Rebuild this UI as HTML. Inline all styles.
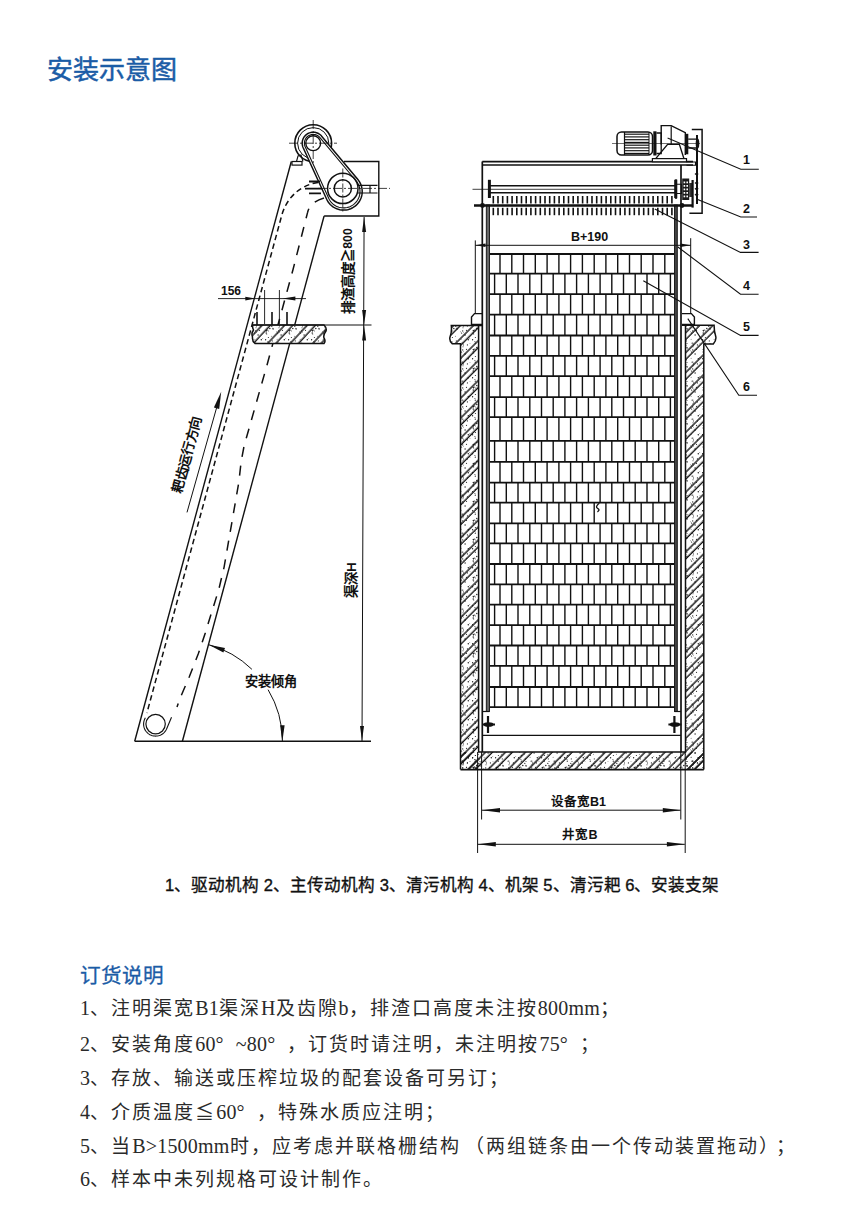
<!DOCTYPE html>
<html lang="zh-CN"><head><meta charset="utf-8">
<style>
html,body{margin:0;padding:0;background:#fff;}
body{width:850px;height:1218px;position:relative;overflow:hidden;font-family:"Liberation Sans",sans-serif;}
.t{position:absolute;white-space:nowrap;}
#title{left:46.5px;top:48.5px;font-size:26px;color:#1b5ca6;-webkit-text-stroke:0.5px #1b5ca6;}
#cap{left:165px;top:872px;font-size:16.6px;color:#111;-webkit-text-stroke:0.35px #111;}
#ord{left:80px;top:959px;font-size:20.6px;color:#1b5ca6;-webkit-text-stroke:0.3px #1b5ca6;}
.ln{left:80px;font-family:"Liberation Serif",serif;font-size:19px;color:#2a2a2a;letter-spacing:2px;}
.ln i{font-style:normal;letter-spacing:0.2px;font-size:20px;}
.ln i.dg{margin-right:12px;}
</style></head><body>
<div class="t" id="title">安装示意图</div>
<svg width="850" height="860" viewBox="0 0 850 860" style="position:absolute;left:0;top:0">
<defs>
<pattern id="hatchL" patternUnits="userSpaceOnUse" width="16.5" height="16.5" patternTransform="rotate(43)"><line x1="1" y1="0" x2="1" y2="16.5" stroke="#111" stroke-width="1.4"/><line x1="7" y1="0" x2="7" y2="16.5" stroke="#111" stroke-width="1.4"/></pattern>
<pattern id="hatchR" patternUnits="userSpaceOnUse" width="14.1" height="14.1" patternTransform="rotate(45)"><line x1="1" y1="0" x2="1" y2="14.1" stroke="#111" stroke-width="1.4"/><line x1="5.9" y1="0" x2="5.9" y2="14.1" stroke="#111" stroke-width="1.4"/></pattern>
<pattern id="stip" patternUnits="userSpaceOnUse" width="23" height="19"><circle cx="7.4" cy="2.9" r="0.61" fill="#222"/><circle cx="1.7" cy="10.2" r="0.50" fill="#222"/><circle cx="1.3" cy="9.6" r="0.36" fill="#222"/><circle cx="10.0" cy="1.3" r="0.39" fill="#222"/><circle cx="9.8" cy="15.7" r="0.40" fill="#222"/><circle cx="5.1" cy="11.9" r="0.73" fill="#222"/><circle cx="13.3" cy="7.5" r="0.74" fill="#222"/><circle cx="1.1" cy="16.3" r="0.47" fill="#222"/><circle cx="3.3" cy="2.2" r="0.47" fill="#222"/><circle cx="18.8" cy="3.4" r="0.58" fill="#222"/><circle cx="14.7" cy="7.1" r="0.57" fill="#222"/><circle cx="1.4" cy="1.1" r="0.43" fill="#222"/><circle cx="15.6" cy="8.1" r="0.48" fill="#222"/><circle cx="13.5" cy="8.6" r="0.47" fill="#222"/><circle cx="18.3" cy="13.3" r="0.45" fill="#222"/><circle cx="13.2" cy="10.0" r="0.70" fill="#222"/><circle cx="16.8" cy="5.5" r="0.74" fill="#222"/><circle cx="2.7" cy="7.9" r="0.65" fill="#222"/><circle cx="3.5" cy="9.3" r="0.37" fill="#222"/><circle cx="15.4" cy="14.5" r="0.58" fill="#222"/><circle cx="20.1" cy="6.0" r="0.63" fill="#222"/><circle cx="13.7" cy="11.0" r="0.53" fill="#222"/><circle cx="19.3" cy="17.9" r="0.54" fill="#222"/><circle cx="15.3" cy="1.2" r="0.63" fill="#222"/><circle cx="14.9" cy="18.9" r="0.68" fill="#222"/><circle cx="6.5" cy="7.3" r="0.62" fill="#222"/><circle cx="0.5" cy="8.8" r="0.42" fill="#222"/><circle cx="2.7" cy="1.1" r="0.66" fill="#222"/><circle cx="3.0" cy="4.7" r="0.51" fill="#222"/><circle cx="20.0" cy="1.5" r="0.53" fill="#222"/><circle cx="12.6" cy="16.8" r="0.68" fill="#222"/><circle cx="19.9" cy="5.3" r="0.52" fill="#222"/><circle cx="8.3" cy="16.8" r="0.73" fill="#222"/><circle cx="3.5" cy="3.3" r="0.44" fill="#222"/></pattern></defs>
<g fill="none" stroke="#111" stroke-linecap="butt" font-family="Liberation Sans, sans-serif">
<line x1="291.3" y1="161.5" x2="134.7" y2="741.2" stroke-width="1.4" />
<line x1="324.1" y1="216.0" x2="182.4" y2="741.2" stroke-width="1.4" />
<line x1="134.7" y1="741.2" x2="371.0" y2="741.2" stroke-width="1.4" />
<path d="M344,161.5 H378.8 V216 H324.1" stroke-width="1.4" />
<rect x="292" y="161.5" width="10" height="3.6" stroke-width="1.2"/>
<path d="M296.5,161.5 L298,156 L301,155 L303,161.5" stroke-width="1.1" />
<path d="M318,182.5 C300,185 286,198 281.3,217 L146.9,713" stroke-width="1.5" stroke-dasharray="5.5 3.5"/>
<path d="M324,198 C314,201 309,206 307.6,212.4 L292.9,270 L267.1,364.7 L244.1,445.9 L241.2,461.2 L238.8,482.4 L224.1,567.1 L218.8,589.4 L211.8,611.8 L205.3,632.9 L198.2,654.1 L189.4,676.5 L180.6,697 L177,707" stroke-width="1.5" stroke-dasharray="10 9"/>
<circle cx="155.6" cy="724.1" r="9.7" stroke-width="1.2"/>
<path d="M145.42,717.74 L144.94,718.59 L144.53,719.48 L144.19,720.40 L143.92,721.34 L143.74,722.30 L143.63,723.27 L143.60,724.25 L143.65,725.23 L143.79,726.20 L144.00,727.16 L144.28,728.09 L144.65,729.00 L145.08,729.88 L145.59,730.71 L146.16,731.51 L146.80,732.25 L147.49,732.94 L148.24,733.58 L149.03,734.14 L149.87,734.65 L150.75,735.08 L151.66,735.44 L152.60,735.72 L153.56,735.92 L154.53,736.05 L155.51,736.10 L156.48,736.07 L157.46,735.96 L158.42,735.76 L159.36,735.50 L160.27,735.15 L161.16,734.73 L162.01,734.25 L162.81,733.69 L163.57,733.07 L164.28,732.39 L164.92,731.66 L165.51,730.87 L166.03,730.04 L166.48,729.17 L171.52,717.17" stroke-width="1.1" />
<circle cx="313.2" cy="143.2" r="18.4" stroke-width="1.6"/>
<circle cx="313.2" cy="143.2" r="15.6" stroke-width="1.0"/>
<path d="M326.68,199.22 L327.40,200.64 L328.23,201.98 L329.18,203.25 L330.23,204.44 L331.38,205.53 L332.62,206.52 L333.94,207.39 L335.33,208.16 L336.78,208.80 L338.27,209.32 L339.81,209.71 L341.37,209.97 L342.95,210.09 L344.54,210.08 L346.12,209.93 L347.68,209.65 L349.21,209.24 L350.69,208.69 L352.13,208.03 L353.51,207.24 L354.81,206.34 L356.03,205.33 L357.17,204.22 L358.20,203.02 L359.13,201.74 L359.94,200.38 L360.64,198.96 L361.21,197.48 L361.66,195.96 L361.97,194.41 L362.15,192.83 L362.20,191.25 L362.11,189.67 L361.89,188.10 L361.53,186.55 L361.04,185.04 L360.43,183.58 L359.70,182.18 L358.84,180.84 L357.88,179.58 L321.65,136.15 L321.12,135.56 L320.55,135.02 L319.94,134.51 L319.30,134.05 L318.63,133.63 L317.93,133.27 L317.20,132.95 L316.46,132.69 L315.69,132.49 L314.92,132.34 L314.13,132.24 L313.34,132.20 L312.55,132.22 L311.77,132.29 L310.99,132.42 L310.22,132.61 L309.47,132.85 L308.73,133.15 L308.02,133.49 L307.34,133.89 L306.69,134.34 L306.07,134.83 L305.48,135.36 L304.94,135.93 L304.44,136.55 L303.99,137.19 L303.58,137.87 L303.22,138.57 L302.91,139.30 L302.66,140.05 L302.46,140.81 L302.32,141.59 L302.23,142.38 L302.20,143.17 L302.23,143.96 L302.31,144.74 L302.45,145.52 L302.64,146.29 L302.89,147.04 L303.19,147.77Z" stroke-width="1.5" fill="#fff"/>
<path d="M328.68,198.31 L329.31,199.55 L330.05,200.74 L330.89,201.86 L331.82,202.91 L332.83,203.87 L333.92,204.74 L335.08,205.51 L336.31,206.19 L337.58,206.76 L338.90,207.21 L340.26,207.56 L341.64,207.78 L343.03,207.89 L344.43,207.88 L345.82,207.75 L347.19,207.50 L348.54,207.14 L349.86,206.66 L351.12,206.07 L352.34,205.38 L353.49,204.59 L354.56,203.70 L355.56,202.72 L356.47,201.66 L357.29,200.53 L358.01,199.33 L358.62,198.07 L359.13,196.77 L359.52,195.43 L359.80,194.06 L359.96,192.67 L360.00,191.28 L359.92,189.88 L359.72,188.50 L359.41,187.14 L358.98,185.81 L358.44,184.52 L357.79,183.28 L357.04,182.10 L356.19,180.99 L319.96,137.56 L319.53,137.09 L319.08,136.65 L318.59,136.25 L318.08,135.88 L317.54,135.55 L316.98,135.25 L316.40,135.00 L315.81,134.79 L315.20,134.63 L314.57,134.51 L313.95,134.43 L313.32,134.40 L312.68,134.42 L312.05,134.47 L311.43,134.58 L310.82,134.73 L310.21,134.92 L309.63,135.16 L309.06,135.44 L308.51,135.75 L307.99,136.11 L307.49,136.50 L307.03,136.93 L306.59,137.39 L306.19,137.88 L305.83,138.39 L305.50,138.93 L305.22,139.50 L304.97,140.08 L304.77,140.68 L304.61,141.29 L304.49,141.91 L304.42,142.54 L304.40,143.17 L304.42,143.81 L304.49,144.43 L304.60,145.06 L304.75,145.67 L304.95,146.27 L305.19,146.85Z" stroke-width="1.1" />
<circle cx="313.2" cy="143.2" r="7.4" stroke-width="1.4"/>
<circle cx="342.8" cy="188.4" r="15.2" stroke-width="1.5"/>
<circle cx="342.8" cy="188.4" r="8.6" stroke-width="1.5"/>
<path d="M358,185.3 H377.5 M358,193 H377.5 M370,185.3 V193" stroke-width="1.2" />
<path d="M309,181.5 H320 M305,188.6 H322 M309,193.4 H321" stroke-width="1.8" />
<line x1="289.0" y1="143.2" x2="337.0" y2="143.2" stroke-width="0.8" stroke-dasharray="9 2 2 2"/>
<line x1="313.2" y1="120.0" x2="313.2" y2="165.0" stroke-width="0.8" stroke-dasharray="9 2 2 2"/>
<line x1="318.0" y1="188.4" x2="390.0" y2="188.4" stroke-width="0.8" stroke-dasharray="9 2 2 2"/>
<line x1="342.8" y1="168.5" x2="342.8" y2="212.0" stroke-width="0.8" stroke-dasharray="9 2 2 2"/>
<path d="M253,325 H324 Q327,328 326,331 Q323,335 324,338 Q326,341 324,343.5 H255 Q252,341 252.5,337 Q251,333 253.5,330 Q252,327 253,325Z" fill="#fff" stroke="none"/>
<path d="M253,325 H324 Q327,328 326,331 Q323,335 324,338 Q326,341 324,343.5 H255 Q252,341 252.5,337 Q251,333 253.5,330 Q252,327 253,325Z" fill="url(#stip)" stroke="none"/>
<path d="M253,325 H324 Q327,328 326,331 Q323,335 324,338 Q326,341 324,343.5 H255 Q252,341 252.5,337 Q251,333 253.5,330 Q252,327 253,325Z" fill="url(#hatchL)" stroke="none"/>
<path d="M253,325 H324 Q327,328 326,331 Q323,335 324,338 Q326,341 324,343.5 H255 Q252,341 252.5,337 Q251,333 253.5,330 Q252,327 253,325Z" stroke-width="1.5" />
<line x1="253.0" y1="325.0" x2="371.5" y2="325.0" stroke-width="1.1" />
<line x1="257.0" y1="312.0" x2="257.0" y2="325.0" stroke-width="1.6" />
<line x1="272.0" y1="312.0" x2="272.0" y2="325.0" stroke-width="1.6" />
<line x1="287.0" y1="312.0" x2="287.0" y2="325.0" stroke-width="1.6" />
<line x1="264.6" y1="290.0" x2="264.6" y2="324.0" stroke-width="0.9" />
<line x1="279.4" y1="290.0" x2="279.4" y2="324.0" stroke-width="0.9" />
<line x1="218.0" y1="298.6" x2="306.0" y2="298.6" stroke-width="0.9" />
<path d="M255.3,298.6 L245.3,300.5 L245.3,296.7Z" fill="#111" stroke="none"/>
<path d="M282.4,298.6 L295.4,296.6 L295.4,300.6Z" fill="#111" stroke="none"/>
<text x="231.0" y="294.5" font-size="12" text-anchor="middle" font-weight="bold" fill="#111" stroke="none" >156</text>
<line x1="364.1" y1="217.0" x2="362.0" y2="741.0" stroke-width="1.0" />
<path d="M364.1,217.0 L366.1,232.0 L362.1,232.0Z" fill="#111" stroke="none"/>
<path d="M364.1,325.0 L362.1,310.0 L366.1,310.0Z" fill="#111" stroke="none"/>
<path d="M364.1,325.5 L366.1,340.5 L362.1,340.5Z" fill="#111" stroke="none"/>
<path d="M362.0,741.0 L360.0,726.0 L364.0,726.0Z" fill="#111" stroke="none"/>
<text x="352.6" y="271.0" font-size="13.5" text-anchor="middle" font-weight="bold" fill="#111" stroke="none" transform="rotate(-90 352.6 271.0)" >排渣高度<tspan>≧</tspan><tspan font-size="12.3" font-weight="bold" dy="-0.3">800</tspan></text>
<text x="356.0" y="580.0" font-size="13.5" text-anchor="middle" font-weight="bold" fill="#111" stroke="none" transform="rotate(-90 356.0 580.0)" >渠深H</text>
<path d="M208.7,644.7 A100,100 0 0 1 251.9,669.3" stroke-width="1.0" />
<path d="M268.1,689.7 A100,100 0 0 1 282.4,741.2" stroke-width="1.0" />
<path d="M208.7,644.7 L225.0,647.9 L223.4,652.5Z" fill="#111" stroke="none"/>
<path d="M282.4,741.2 L280.1,725.2 L284.6,725.2Z" fill="#111" stroke="none"/>
<text x="270.8" y="686.0" font-size="13.2" text-anchor="middle" font-weight="bold" fill="#111" stroke="none" >安装倾角</text>
<line x1="187.0" y1="512.4" x2="218.5" y2="401.0" stroke-width="1.0" />
<path d="M221.2,391.8 L219.2,408.9 L213.9,407.4Z" fill="#111" stroke="none"/>
<text x="191.5" y="456.0" font-size="13.5" text-anchor="middle" font-weight="bold" fill="#111" stroke="none" transform="rotate(-74.5 191.5 456.0)" >耙齿运行方向</text>
<path d="M460.5,769.6 V343.8 H452.2 Q449,341 450,337 Q452,332 451.3,325.4 H478.6 V752 H478.6 V769.6Z" fill="url(#stip)" stroke="none"/>
<path d="M460.5,769.6 V343.8 H452.2 Q449,341 450,337 Q452,332 451.3,325.4 H478.6 V752 H478.6 V769.6Z" fill="url(#hatchR)" stroke="none"/>
<path d="M703.8,769.6 V344 H713.3 Q716.5,340 715.8,336.7 Q714,331 714.1,325.2 H685.5 V752 H685.5 V769.6Z" fill="url(#stip)" stroke="none"/>
<path d="M703.8,769.6 V344 H713.3 Q716.5,340 715.8,336.7 Q714,331 714.1,325.2 H685.5 V752 H685.5 V769.6Z" fill="url(#hatchR)" stroke="none"/>
<path d="M460.5,752 H703.8 V769.6 H460.5Z" fill="url(#stip)" stroke="none"/>
<path d="M460.5,752 H703.8 V769.6 H460.5Z" fill="url(#hatchR)" stroke="none"/>
<path d="M460.5,769.6 V343.8 H452.2 Q449,341 450,337 Q452,332 451.3,325.4 H482" stroke-width="1.5" />
<path d="M703.8,769.6 V344 H713.3 Q716.5,340 715.8,336.7 Q714,331 714.1,325.2 H682" stroke-width="1.5" />
<path d="M478.6,325.4 V752 H685.5 V325.2" stroke-width="1.5" />
<line x1="460.5" y1="769.6" x2="703.8" y2="769.6" stroke-width="1.6" />
<path d="M482.8,324.5 H471.5 V317 L474.5,313.6 H482.8" stroke-width="1.4" />
<path d="M682,324.4 H694.4 V317 L691.4,313.6 H682" stroke-width="1.4" />
<line x1="482.3" y1="161.6" x2="482.3" y2="752.0" stroke-width="1.7" />
<line x1="481.6" y1="752.0" x2="481.6" y2="819.5" stroke-width="1.0" />
<line x1="681.0" y1="165.0" x2="681.0" y2="752.0" stroke-width="1.7" />
<line x1="680.8" y1="752.0" x2="680.8" y2="819.5" stroke-width="1.0" />
<path d="M482.3,161.6 H693" stroke-width="1.8" />
<path d="M482.3,165 H693" stroke-width="1.3" />
<rect x="486.3" y="205" width="3.2" height="506.5" fill="#666" stroke="#111" stroke-width="0.9"/>
<path d="M482.3,711.5 H489.5" stroke-width="1.2" />
<rect x="674.5" y="205" width="2.8" height="506.5" fill="#444" stroke="#111" stroke-width="0.9"/>
<path d="M674.5,711.5 H681" stroke-width="1.2" />
<line x1="490.0" y1="254.0" x2="674.3" y2="254.0" stroke-width="1.8" />
<line x1="490.0" y1="273.7" x2="674.3" y2="273.7" stroke-width="1.8" />
<line x1="490.0" y1="294.2" x2="674.3" y2="294.2" stroke-width="1.8" />
<line x1="490.0" y1="314.7" x2="674.3" y2="314.7" stroke-width="1.8" />
<line x1="490.0" y1="335.5" x2="674.3" y2="335.5" stroke-width="1.8" />
<line x1="490.0" y1="355.9" x2="674.3" y2="355.9" stroke-width="1.8" />
<line x1="490.0" y1="376.2" x2="674.3" y2="376.2" stroke-width="1.8" />
<line x1="490.0" y1="397.1" x2="674.3" y2="397.1" stroke-width="1.8" />
<line x1="490.0" y1="417.1" x2="674.3" y2="417.1" stroke-width="1.8" />
<line x1="490.0" y1="440.8" x2="674.3" y2="440.8" stroke-width="1.8" />
<line x1="490.0" y1="461.8" x2="674.3" y2="461.8" stroke-width="1.8" />
<line x1="490.0" y1="482.6" x2="674.3" y2="482.6" stroke-width="1.8" />
<line x1="490.0" y1="502.6" x2="674.3" y2="502.6" stroke-width="1.8" />
<line x1="490.0" y1="523.4" x2="674.3" y2="523.4" stroke-width="1.8" />
<line x1="490.0" y1="543.4" x2="674.3" y2="543.4" stroke-width="1.8" />
<line x1="490.0" y1="564.0" x2="674.3" y2="564.0" stroke-width="1.8" />
<line x1="490.0" y1="584.3" x2="674.3" y2="584.3" stroke-width="1.8" />
<line x1="490.0" y1="604.7" x2="674.3" y2="604.7" stroke-width="1.8" />
<line x1="490.0" y1="625.1" x2="674.3" y2="625.1" stroke-width="1.8" />
<line x1="490.0" y1="645.5" x2="674.3" y2="645.5" stroke-width="1.8" />
<line x1="490.0" y1="665.9" x2="674.3" y2="665.9" stroke-width="1.8" />
<line x1="490.0" y1="687.0" x2="674.3" y2="687.0" stroke-width="1.8" />
<line x1="490.0" y1="707.2" x2="674.3" y2="707.2" stroke-width="1.8" />
<line x1="500.0" y1="254.0" x2="500.0" y2="273.7" stroke-width="1.4" />
<line x1="511.8" y1="254.0" x2="511.8" y2="273.7" stroke-width="1.4" />
<line x1="523.5" y1="254.0" x2="523.5" y2="273.7" stroke-width="1.4" />
<line x1="535.3" y1="254.0" x2="535.3" y2="273.7" stroke-width="1.4" />
<line x1="547.1" y1="254.0" x2="547.1" y2="273.7" stroke-width="1.4" />
<line x1="558.9" y1="254.0" x2="558.9" y2="273.7" stroke-width="1.4" />
<line x1="570.6" y1="254.0" x2="570.6" y2="273.7" stroke-width="1.4" />
<line x1="582.4" y1="254.0" x2="582.4" y2="273.7" stroke-width="1.4" />
<line x1="594.2" y1="254.0" x2="594.2" y2="273.7" stroke-width="1.4" />
<line x1="605.9" y1="254.0" x2="605.9" y2="273.7" stroke-width="1.4" />
<line x1="617.7" y1="254.0" x2="617.7" y2="273.7" stroke-width="1.4" />
<line x1="629.5" y1="254.0" x2="629.5" y2="273.7" stroke-width="1.4" />
<line x1="641.2" y1="254.0" x2="641.2" y2="273.7" stroke-width="1.4" />
<line x1="653.0" y1="254.0" x2="653.0" y2="273.7" stroke-width="1.4" />
<line x1="664.8" y1="254.0" x2="664.8" y2="273.7" stroke-width="1.4" />
<line x1="494.6" y1="273.7" x2="494.6" y2="294.2" stroke-width="1.4" />
<line x1="506.3" y1="273.7" x2="506.3" y2="294.2" stroke-width="1.4" />
<line x1="518.0" y1="273.7" x2="518.0" y2="294.2" stroke-width="1.4" />
<line x1="529.8" y1="273.7" x2="529.8" y2="294.2" stroke-width="1.4" />
<line x1="541.5" y1="273.7" x2="541.5" y2="294.2" stroke-width="1.4" />
<line x1="553.2" y1="273.7" x2="553.2" y2="294.2" stroke-width="1.4" />
<line x1="564.9" y1="273.7" x2="564.9" y2="294.2" stroke-width="1.4" />
<line x1="576.6" y1="273.7" x2="576.6" y2="294.2" stroke-width="1.4" />
<line x1="588.4" y1="273.7" x2="588.4" y2="294.2" stroke-width="1.4" />
<line x1="600.1" y1="273.7" x2="600.1" y2="294.2" stroke-width="1.4" />
<line x1="611.8" y1="273.7" x2="611.8" y2="294.2" stroke-width="1.4" />
<line x1="623.5" y1="273.7" x2="623.5" y2="294.2" stroke-width="1.4" />
<line x1="635.2" y1="273.7" x2="635.2" y2="294.2" stroke-width="1.4" />
<line x1="647.0" y1="273.7" x2="647.0" y2="294.2" stroke-width="1.4" />
<line x1="658.7" y1="273.7" x2="658.7" y2="294.2" stroke-width="1.4" />
<line x1="670.4" y1="273.7" x2="670.4" y2="294.2" stroke-width="1.4" />
<line x1="500.0" y1="294.2" x2="500.0" y2="314.7" stroke-width="1.4" />
<line x1="511.8" y1="294.2" x2="511.8" y2="314.7" stroke-width="1.4" />
<line x1="523.5" y1="294.2" x2="523.5" y2="314.7" stroke-width="1.4" />
<line x1="535.3" y1="294.2" x2="535.3" y2="314.7" stroke-width="1.4" />
<line x1="547.1" y1="294.2" x2="547.1" y2="314.7" stroke-width="1.4" />
<line x1="558.9" y1="294.2" x2="558.9" y2="314.7" stroke-width="1.4" />
<line x1="570.6" y1="294.2" x2="570.6" y2="314.7" stroke-width="1.4" />
<line x1="582.4" y1="294.2" x2="582.4" y2="314.7" stroke-width="1.4" />
<line x1="594.2" y1="294.2" x2="594.2" y2="314.7" stroke-width="1.4" />
<line x1="605.9" y1="294.2" x2="605.9" y2="314.7" stroke-width="1.4" />
<line x1="617.7" y1="294.2" x2="617.7" y2="314.7" stroke-width="1.4" />
<line x1="629.5" y1="294.2" x2="629.5" y2="314.7" stroke-width="1.4" />
<line x1="641.2" y1="294.2" x2="641.2" y2="314.7" stroke-width="1.4" />
<line x1="653.0" y1="294.2" x2="653.0" y2="314.7" stroke-width="1.4" />
<line x1="664.8" y1="294.2" x2="664.8" y2="314.7" stroke-width="1.4" />
<line x1="494.6" y1="314.7" x2="494.6" y2="335.5" stroke-width="1.4" />
<line x1="506.3" y1="314.7" x2="506.3" y2="335.5" stroke-width="1.4" />
<line x1="518.0" y1="314.7" x2="518.0" y2="335.5" stroke-width="1.4" />
<line x1="529.8" y1="314.7" x2="529.8" y2="335.5" stroke-width="1.4" />
<line x1="541.5" y1="314.7" x2="541.5" y2="335.5" stroke-width="1.4" />
<line x1="553.2" y1="314.7" x2="553.2" y2="335.5" stroke-width="1.4" />
<line x1="564.9" y1="314.7" x2="564.9" y2="335.5" stroke-width="1.4" />
<line x1="576.6" y1="314.7" x2="576.6" y2="335.5" stroke-width="1.4" />
<line x1="588.4" y1="314.7" x2="588.4" y2="335.5" stroke-width="1.4" />
<line x1="600.1" y1="314.7" x2="600.1" y2="335.5" stroke-width="1.4" />
<line x1="611.8" y1="314.7" x2="611.8" y2="335.5" stroke-width="1.4" />
<line x1="623.5" y1="314.7" x2="623.5" y2="335.5" stroke-width="1.4" />
<line x1="635.2" y1="314.7" x2="635.2" y2="335.5" stroke-width="1.4" />
<line x1="647.0" y1="314.7" x2="647.0" y2="335.5" stroke-width="1.4" />
<line x1="658.7" y1="314.7" x2="658.7" y2="335.5" stroke-width="1.4" />
<line x1="670.4" y1="314.7" x2="670.4" y2="335.5" stroke-width="1.4" />
<line x1="500.0" y1="335.5" x2="500.0" y2="355.9" stroke-width="1.4" />
<line x1="511.8" y1="335.5" x2="511.8" y2="355.9" stroke-width="1.4" />
<line x1="523.5" y1="335.5" x2="523.5" y2="355.9" stroke-width="1.4" />
<line x1="535.3" y1="335.5" x2="535.3" y2="355.9" stroke-width="1.4" />
<line x1="547.1" y1="335.5" x2="547.1" y2="355.9" stroke-width="1.4" />
<line x1="558.9" y1="335.5" x2="558.9" y2="355.9" stroke-width="1.4" />
<line x1="570.6" y1="335.5" x2="570.6" y2="355.9" stroke-width="1.4" />
<line x1="582.4" y1="335.5" x2="582.4" y2="355.9" stroke-width="1.4" />
<line x1="594.2" y1="335.5" x2="594.2" y2="355.9" stroke-width="1.4" />
<line x1="605.9" y1="335.5" x2="605.9" y2="355.9" stroke-width="1.4" />
<line x1="617.7" y1="335.5" x2="617.7" y2="355.9" stroke-width="1.4" />
<line x1="629.5" y1="335.5" x2="629.5" y2="355.9" stroke-width="1.4" />
<line x1="641.2" y1="335.5" x2="641.2" y2="355.9" stroke-width="1.4" />
<line x1="653.0" y1="335.5" x2="653.0" y2="355.9" stroke-width="1.4" />
<line x1="664.8" y1="335.5" x2="664.8" y2="355.9" stroke-width="1.4" />
<line x1="494.6" y1="355.9" x2="494.6" y2="376.2" stroke-width="1.4" />
<line x1="506.3" y1="355.9" x2="506.3" y2="376.2" stroke-width="1.4" />
<line x1="518.0" y1="355.9" x2="518.0" y2="376.2" stroke-width="1.4" />
<line x1="529.8" y1="355.9" x2="529.8" y2="376.2" stroke-width="1.4" />
<line x1="541.5" y1="355.9" x2="541.5" y2="376.2" stroke-width="1.4" />
<line x1="553.2" y1="355.9" x2="553.2" y2="376.2" stroke-width="1.4" />
<line x1="564.9" y1="355.9" x2="564.9" y2="376.2" stroke-width="1.4" />
<line x1="576.6" y1="355.9" x2="576.6" y2="376.2" stroke-width="1.4" />
<line x1="588.4" y1="355.9" x2="588.4" y2="376.2" stroke-width="1.4" />
<line x1="600.1" y1="355.9" x2="600.1" y2="376.2" stroke-width="1.4" />
<line x1="611.8" y1="355.9" x2="611.8" y2="376.2" stroke-width="1.4" />
<line x1="623.5" y1="355.9" x2="623.5" y2="376.2" stroke-width="1.4" />
<line x1="635.2" y1="355.9" x2="635.2" y2="376.2" stroke-width="1.4" />
<line x1="647.0" y1="355.9" x2="647.0" y2="376.2" stroke-width="1.4" />
<line x1="658.7" y1="355.9" x2="658.7" y2="376.2" stroke-width="1.4" />
<line x1="670.4" y1="355.9" x2="670.4" y2="376.2" stroke-width="1.4" />
<line x1="500.0" y1="376.2" x2="500.0" y2="397.1" stroke-width="1.4" />
<line x1="511.8" y1="376.2" x2="511.8" y2="397.1" stroke-width="1.4" />
<line x1="523.5" y1="376.2" x2="523.5" y2="397.1" stroke-width="1.4" />
<line x1="535.3" y1="376.2" x2="535.3" y2="397.1" stroke-width="1.4" />
<line x1="547.1" y1="376.2" x2="547.1" y2="397.1" stroke-width="1.4" />
<line x1="558.9" y1="376.2" x2="558.9" y2="397.1" stroke-width="1.4" />
<line x1="570.6" y1="376.2" x2="570.6" y2="397.1" stroke-width="1.4" />
<line x1="582.4" y1="376.2" x2="582.4" y2="397.1" stroke-width="1.4" />
<line x1="594.2" y1="376.2" x2="594.2" y2="397.1" stroke-width="1.4" />
<line x1="605.9" y1="376.2" x2="605.9" y2="397.1" stroke-width="1.4" />
<line x1="617.7" y1="376.2" x2="617.7" y2="397.1" stroke-width="1.4" />
<line x1="629.5" y1="376.2" x2="629.5" y2="397.1" stroke-width="1.4" />
<line x1="641.2" y1="376.2" x2="641.2" y2="397.1" stroke-width="1.4" />
<line x1="653.0" y1="376.2" x2="653.0" y2="397.1" stroke-width="1.4" />
<line x1="664.8" y1="376.2" x2="664.8" y2="397.1" stroke-width="1.4" />
<line x1="494.6" y1="397.1" x2="494.6" y2="417.1" stroke-width="1.4" />
<line x1="506.3" y1="397.1" x2="506.3" y2="417.1" stroke-width="1.4" />
<line x1="518.0" y1="397.1" x2="518.0" y2="417.1" stroke-width="1.4" />
<line x1="529.8" y1="397.1" x2="529.8" y2="417.1" stroke-width="1.4" />
<line x1="541.5" y1="397.1" x2="541.5" y2="417.1" stroke-width="1.4" />
<line x1="553.2" y1="397.1" x2="553.2" y2="417.1" stroke-width="1.4" />
<line x1="564.9" y1="397.1" x2="564.9" y2="417.1" stroke-width="1.4" />
<line x1="576.6" y1="397.1" x2="576.6" y2="417.1" stroke-width="1.4" />
<line x1="588.4" y1="397.1" x2="588.4" y2="417.1" stroke-width="1.4" />
<line x1="600.1" y1="397.1" x2="600.1" y2="417.1" stroke-width="1.4" />
<line x1="611.8" y1="397.1" x2="611.8" y2="417.1" stroke-width="1.4" />
<line x1="623.5" y1="397.1" x2="623.5" y2="417.1" stroke-width="1.4" />
<line x1="635.2" y1="397.1" x2="635.2" y2="417.1" stroke-width="1.4" />
<line x1="647.0" y1="397.1" x2="647.0" y2="417.1" stroke-width="1.4" />
<line x1="658.7" y1="397.1" x2="658.7" y2="417.1" stroke-width="1.4" />
<line x1="670.4" y1="397.1" x2="670.4" y2="417.1" stroke-width="1.4" />
<line x1="500.0" y1="417.1" x2="500.0" y2="440.8" stroke-width="1.4" />
<line x1="511.8" y1="417.1" x2="511.8" y2="440.8" stroke-width="1.4" />
<line x1="523.5" y1="417.1" x2="523.5" y2="440.8" stroke-width="1.4" />
<line x1="535.3" y1="417.1" x2="535.3" y2="440.8" stroke-width="1.4" />
<line x1="547.1" y1="417.1" x2="547.1" y2="440.8" stroke-width="1.4" />
<line x1="558.9" y1="417.1" x2="558.9" y2="440.8" stroke-width="1.4" />
<line x1="570.6" y1="417.1" x2="570.6" y2="440.8" stroke-width="1.4" />
<line x1="582.4" y1="417.1" x2="582.4" y2="440.8" stroke-width="1.4" />
<line x1="594.2" y1="417.1" x2="594.2" y2="440.8" stroke-width="1.4" />
<line x1="605.9" y1="417.1" x2="605.9" y2="440.8" stroke-width="1.4" />
<line x1="617.7" y1="417.1" x2="617.7" y2="440.8" stroke-width="1.4" />
<line x1="629.5" y1="417.1" x2="629.5" y2="440.8" stroke-width="1.4" />
<line x1="641.2" y1="417.1" x2="641.2" y2="440.8" stroke-width="1.4" />
<line x1="653.0" y1="417.1" x2="653.0" y2="440.8" stroke-width="1.4" />
<line x1="664.8" y1="417.1" x2="664.8" y2="440.8" stroke-width="1.4" />
<line x1="494.6" y1="440.8" x2="494.6" y2="461.8" stroke-width="1.4" />
<line x1="506.3" y1="440.8" x2="506.3" y2="461.8" stroke-width="1.4" />
<line x1="518.0" y1="440.8" x2="518.0" y2="461.8" stroke-width="1.4" />
<line x1="529.8" y1="440.8" x2="529.8" y2="461.8" stroke-width="1.4" />
<line x1="541.5" y1="440.8" x2="541.5" y2="461.8" stroke-width="1.4" />
<line x1="553.2" y1="440.8" x2="553.2" y2="461.8" stroke-width="1.4" />
<line x1="564.9" y1="440.8" x2="564.9" y2="461.8" stroke-width="1.4" />
<line x1="576.6" y1="440.8" x2="576.6" y2="461.8" stroke-width="1.4" />
<line x1="588.4" y1="440.8" x2="588.4" y2="461.8" stroke-width="1.4" />
<line x1="600.1" y1="440.8" x2="600.1" y2="461.8" stroke-width="1.4" />
<line x1="611.8" y1="440.8" x2="611.8" y2="461.8" stroke-width="1.4" />
<line x1="623.5" y1="440.8" x2="623.5" y2="461.8" stroke-width="1.4" />
<line x1="635.2" y1="440.8" x2="635.2" y2="461.8" stroke-width="1.4" />
<line x1="647.0" y1="440.8" x2="647.0" y2="461.8" stroke-width="1.4" />
<line x1="658.7" y1="440.8" x2="658.7" y2="461.8" stroke-width="1.4" />
<line x1="670.4" y1="440.8" x2="670.4" y2="461.8" stroke-width="1.4" />
<line x1="500.0" y1="461.8" x2="500.0" y2="482.6" stroke-width="1.4" />
<line x1="511.8" y1="461.8" x2="511.8" y2="482.6" stroke-width="1.4" />
<line x1="523.5" y1="461.8" x2="523.5" y2="482.6" stroke-width="1.4" />
<line x1="535.3" y1="461.8" x2="535.3" y2="482.6" stroke-width="1.4" />
<line x1="547.1" y1="461.8" x2="547.1" y2="482.6" stroke-width="1.4" />
<line x1="558.9" y1="461.8" x2="558.9" y2="482.6" stroke-width="1.4" />
<line x1="570.6" y1="461.8" x2="570.6" y2="482.6" stroke-width="1.4" />
<line x1="582.4" y1="461.8" x2="582.4" y2="482.6" stroke-width="1.4" />
<line x1="594.2" y1="461.8" x2="594.2" y2="482.6" stroke-width="1.4" />
<line x1="605.9" y1="461.8" x2="605.9" y2="482.6" stroke-width="1.4" />
<line x1="617.7" y1="461.8" x2="617.7" y2="482.6" stroke-width="1.4" />
<line x1="629.5" y1="461.8" x2="629.5" y2="482.6" stroke-width="1.4" />
<line x1="641.2" y1="461.8" x2="641.2" y2="482.6" stroke-width="1.4" />
<line x1="653.0" y1="461.8" x2="653.0" y2="482.6" stroke-width="1.4" />
<line x1="664.8" y1="461.8" x2="664.8" y2="482.6" stroke-width="1.4" />
<line x1="494.6" y1="482.6" x2="494.6" y2="502.6" stroke-width="1.4" />
<line x1="506.3" y1="482.6" x2="506.3" y2="502.6" stroke-width="1.4" />
<line x1="518.0" y1="482.6" x2="518.0" y2="502.6" stroke-width="1.4" />
<line x1="529.8" y1="482.6" x2="529.8" y2="502.6" stroke-width="1.4" />
<line x1="541.5" y1="482.6" x2="541.5" y2="502.6" stroke-width="1.4" />
<line x1="553.2" y1="482.6" x2="553.2" y2="502.6" stroke-width="1.4" />
<line x1="564.9" y1="482.6" x2="564.9" y2="502.6" stroke-width="1.4" />
<line x1="576.6" y1="482.6" x2="576.6" y2="502.6" stroke-width="1.4" />
<line x1="588.4" y1="482.6" x2="588.4" y2="502.6" stroke-width="1.4" />
<line x1="600.1" y1="482.6" x2="600.1" y2="502.6" stroke-width="1.4" />
<line x1="611.8" y1="482.6" x2="611.8" y2="502.6" stroke-width="1.4" />
<line x1="623.5" y1="482.6" x2="623.5" y2="502.6" stroke-width="1.4" />
<line x1="635.2" y1="482.6" x2="635.2" y2="502.6" stroke-width="1.4" />
<line x1="647.0" y1="482.6" x2="647.0" y2="502.6" stroke-width="1.4" />
<line x1="658.7" y1="482.6" x2="658.7" y2="502.6" stroke-width="1.4" />
<line x1="670.4" y1="482.6" x2="670.4" y2="502.6" stroke-width="1.4" />
<line x1="500.0" y1="502.6" x2="500.0" y2="523.4" stroke-width="1.4" />
<line x1="511.8" y1="502.6" x2="511.8" y2="523.4" stroke-width="1.4" />
<line x1="523.5" y1="502.6" x2="523.5" y2="523.4" stroke-width="1.4" />
<line x1="535.3" y1="502.6" x2="535.3" y2="523.4" stroke-width="1.4" />
<line x1="547.1" y1="502.6" x2="547.1" y2="523.4" stroke-width="1.4" />
<line x1="558.9" y1="502.6" x2="558.9" y2="523.4" stroke-width="1.4" />
<line x1="570.6" y1="502.6" x2="570.6" y2="523.4" stroke-width="1.4" />
<line x1="582.4" y1="502.6" x2="582.4" y2="523.4" stroke-width="1.4" />
<line x1="594.2" y1="502.6" x2="594.2" y2="523.4" stroke-width="1.4" />
<line x1="605.9" y1="502.6" x2="605.9" y2="523.4" stroke-width="1.4" />
<line x1="617.7" y1="502.6" x2="617.7" y2="523.4" stroke-width="1.4" />
<line x1="629.5" y1="502.6" x2="629.5" y2="523.4" stroke-width="1.4" />
<line x1="641.2" y1="502.6" x2="641.2" y2="523.4" stroke-width="1.4" />
<line x1="653.0" y1="502.6" x2="653.0" y2="523.4" stroke-width="1.4" />
<line x1="664.8" y1="502.6" x2="664.8" y2="523.4" stroke-width="1.4" />
<line x1="494.6" y1="523.4" x2="494.6" y2="543.4" stroke-width="1.4" />
<line x1="506.3" y1="523.4" x2="506.3" y2="543.4" stroke-width="1.4" />
<line x1="518.0" y1="523.4" x2="518.0" y2="543.4" stroke-width="1.4" />
<line x1="529.8" y1="523.4" x2="529.8" y2="543.4" stroke-width="1.4" />
<line x1="541.5" y1="523.4" x2="541.5" y2="543.4" stroke-width="1.4" />
<line x1="553.2" y1="523.4" x2="553.2" y2="543.4" stroke-width="1.4" />
<line x1="564.9" y1="523.4" x2="564.9" y2="543.4" stroke-width="1.4" />
<line x1="576.6" y1="523.4" x2="576.6" y2="543.4" stroke-width="1.4" />
<line x1="588.4" y1="523.4" x2="588.4" y2="543.4" stroke-width="1.4" />
<line x1="600.1" y1="523.4" x2="600.1" y2="543.4" stroke-width="1.4" />
<line x1="611.8" y1="523.4" x2="611.8" y2="543.4" stroke-width="1.4" />
<line x1="623.5" y1="523.4" x2="623.5" y2="543.4" stroke-width="1.4" />
<line x1="635.2" y1="523.4" x2="635.2" y2="543.4" stroke-width="1.4" />
<line x1="647.0" y1="523.4" x2="647.0" y2="543.4" stroke-width="1.4" />
<line x1="658.7" y1="523.4" x2="658.7" y2="543.4" stroke-width="1.4" />
<line x1="670.4" y1="523.4" x2="670.4" y2="543.4" stroke-width="1.4" />
<line x1="500.0" y1="543.4" x2="500.0" y2="564.0" stroke-width="1.4" />
<line x1="511.8" y1="543.4" x2="511.8" y2="564.0" stroke-width="1.4" />
<line x1="523.5" y1="543.4" x2="523.5" y2="564.0" stroke-width="1.4" />
<line x1="535.3" y1="543.4" x2="535.3" y2="564.0" stroke-width="1.4" />
<line x1="547.1" y1="543.4" x2="547.1" y2="564.0" stroke-width="1.4" />
<line x1="558.9" y1="543.4" x2="558.9" y2="564.0" stroke-width="1.4" />
<line x1="570.6" y1="543.4" x2="570.6" y2="564.0" stroke-width="1.4" />
<line x1="582.4" y1="543.4" x2="582.4" y2="564.0" stroke-width="1.4" />
<line x1="594.2" y1="543.4" x2="594.2" y2="564.0" stroke-width="1.4" />
<line x1="605.9" y1="543.4" x2="605.9" y2="564.0" stroke-width="1.4" />
<line x1="617.7" y1="543.4" x2="617.7" y2="564.0" stroke-width="1.4" />
<line x1="629.5" y1="543.4" x2="629.5" y2="564.0" stroke-width="1.4" />
<line x1="641.2" y1="543.4" x2="641.2" y2="564.0" stroke-width="1.4" />
<line x1="653.0" y1="543.4" x2="653.0" y2="564.0" stroke-width="1.4" />
<line x1="664.8" y1="543.4" x2="664.8" y2="564.0" stroke-width="1.4" />
<line x1="494.6" y1="564.0" x2="494.6" y2="584.3" stroke-width="1.4" />
<line x1="506.3" y1="564.0" x2="506.3" y2="584.3" stroke-width="1.4" />
<line x1="518.0" y1="564.0" x2="518.0" y2="584.3" stroke-width="1.4" />
<line x1="529.8" y1="564.0" x2="529.8" y2="584.3" stroke-width="1.4" />
<line x1="541.5" y1="564.0" x2="541.5" y2="584.3" stroke-width="1.4" />
<line x1="553.2" y1="564.0" x2="553.2" y2="584.3" stroke-width="1.4" />
<line x1="564.9" y1="564.0" x2="564.9" y2="584.3" stroke-width="1.4" />
<line x1="576.6" y1="564.0" x2="576.6" y2="584.3" stroke-width="1.4" />
<line x1="588.4" y1="564.0" x2="588.4" y2="584.3" stroke-width="1.4" />
<line x1="600.1" y1="564.0" x2="600.1" y2="584.3" stroke-width="1.4" />
<line x1="611.8" y1="564.0" x2="611.8" y2="584.3" stroke-width="1.4" />
<line x1="623.5" y1="564.0" x2="623.5" y2="584.3" stroke-width="1.4" />
<line x1="635.2" y1="564.0" x2="635.2" y2="584.3" stroke-width="1.4" />
<line x1="647.0" y1="564.0" x2="647.0" y2="584.3" stroke-width="1.4" />
<line x1="658.7" y1="564.0" x2="658.7" y2="584.3" stroke-width="1.4" />
<line x1="670.4" y1="564.0" x2="670.4" y2="584.3" stroke-width="1.4" />
<line x1="500.0" y1="584.3" x2="500.0" y2="604.7" stroke-width="1.4" />
<line x1="511.8" y1="584.3" x2="511.8" y2="604.7" stroke-width="1.4" />
<line x1="523.5" y1="584.3" x2="523.5" y2="604.7" stroke-width="1.4" />
<line x1="535.3" y1="584.3" x2="535.3" y2="604.7" stroke-width="1.4" />
<line x1="547.1" y1="584.3" x2="547.1" y2="604.7" stroke-width="1.4" />
<line x1="558.9" y1="584.3" x2="558.9" y2="604.7" stroke-width="1.4" />
<line x1="570.6" y1="584.3" x2="570.6" y2="604.7" stroke-width="1.4" />
<line x1="582.4" y1="584.3" x2="582.4" y2="604.7" stroke-width="1.4" />
<line x1="594.2" y1="584.3" x2="594.2" y2="604.7" stroke-width="1.4" />
<line x1="605.9" y1="584.3" x2="605.9" y2="604.7" stroke-width="1.4" />
<line x1="617.7" y1="584.3" x2="617.7" y2="604.7" stroke-width="1.4" />
<line x1="629.5" y1="584.3" x2="629.5" y2="604.7" stroke-width="1.4" />
<line x1="641.2" y1="584.3" x2="641.2" y2="604.7" stroke-width="1.4" />
<line x1="653.0" y1="584.3" x2="653.0" y2="604.7" stroke-width="1.4" />
<line x1="664.8" y1="584.3" x2="664.8" y2="604.7" stroke-width="1.4" />
<line x1="494.6" y1="604.7" x2="494.6" y2="625.1" stroke-width="1.4" />
<line x1="506.3" y1="604.7" x2="506.3" y2="625.1" stroke-width="1.4" />
<line x1="518.0" y1="604.7" x2="518.0" y2="625.1" stroke-width="1.4" />
<line x1="529.8" y1="604.7" x2="529.8" y2="625.1" stroke-width="1.4" />
<line x1="541.5" y1="604.7" x2="541.5" y2="625.1" stroke-width="1.4" />
<line x1="553.2" y1="604.7" x2="553.2" y2="625.1" stroke-width="1.4" />
<line x1="564.9" y1="604.7" x2="564.9" y2="625.1" stroke-width="1.4" />
<line x1="576.6" y1="604.7" x2="576.6" y2="625.1" stroke-width="1.4" />
<line x1="588.4" y1="604.7" x2="588.4" y2="625.1" stroke-width="1.4" />
<line x1="600.1" y1="604.7" x2="600.1" y2="625.1" stroke-width="1.4" />
<line x1="611.8" y1="604.7" x2="611.8" y2="625.1" stroke-width="1.4" />
<line x1="623.5" y1="604.7" x2="623.5" y2="625.1" stroke-width="1.4" />
<line x1="635.2" y1="604.7" x2="635.2" y2="625.1" stroke-width="1.4" />
<line x1="647.0" y1="604.7" x2="647.0" y2="625.1" stroke-width="1.4" />
<line x1="658.7" y1="604.7" x2="658.7" y2="625.1" stroke-width="1.4" />
<line x1="670.4" y1="604.7" x2="670.4" y2="625.1" stroke-width="1.4" />
<line x1="500.0" y1="625.1" x2="500.0" y2="645.5" stroke-width="1.4" />
<line x1="511.8" y1="625.1" x2="511.8" y2="645.5" stroke-width="1.4" />
<line x1="523.5" y1="625.1" x2="523.5" y2="645.5" stroke-width="1.4" />
<line x1="535.3" y1="625.1" x2="535.3" y2="645.5" stroke-width="1.4" />
<line x1="547.1" y1="625.1" x2="547.1" y2="645.5" stroke-width="1.4" />
<line x1="558.9" y1="625.1" x2="558.9" y2="645.5" stroke-width="1.4" />
<line x1="570.6" y1="625.1" x2="570.6" y2="645.5" stroke-width="1.4" />
<line x1="582.4" y1="625.1" x2="582.4" y2="645.5" stroke-width="1.4" />
<line x1="594.2" y1="625.1" x2="594.2" y2="645.5" stroke-width="1.4" />
<line x1="605.9" y1="625.1" x2="605.9" y2="645.5" stroke-width="1.4" />
<line x1="617.7" y1="625.1" x2="617.7" y2="645.5" stroke-width="1.4" />
<line x1="629.5" y1="625.1" x2="629.5" y2="645.5" stroke-width="1.4" />
<line x1="641.2" y1="625.1" x2="641.2" y2="645.5" stroke-width="1.4" />
<line x1="653.0" y1="625.1" x2="653.0" y2="645.5" stroke-width="1.4" />
<line x1="664.8" y1="625.1" x2="664.8" y2="645.5" stroke-width="1.4" />
<line x1="494.6" y1="645.5" x2="494.6" y2="665.9" stroke-width="1.4" />
<line x1="506.3" y1="645.5" x2="506.3" y2="665.9" stroke-width="1.4" />
<line x1="518.0" y1="645.5" x2="518.0" y2="665.9" stroke-width="1.4" />
<line x1="529.8" y1="645.5" x2="529.8" y2="665.9" stroke-width="1.4" />
<line x1="541.5" y1="645.5" x2="541.5" y2="665.9" stroke-width="1.4" />
<line x1="553.2" y1="645.5" x2="553.2" y2="665.9" stroke-width="1.4" />
<line x1="564.9" y1="645.5" x2="564.9" y2="665.9" stroke-width="1.4" />
<line x1="576.6" y1="645.5" x2="576.6" y2="665.9" stroke-width="1.4" />
<line x1="588.4" y1="645.5" x2="588.4" y2="665.9" stroke-width="1.4" />
<line x1="600.1" y1="645.5" x2="600.1" y2="665.9" stroke-width="1.4" />
<line x1="611.8" y1="645.5" x2="611.8" y2="665.9" stroke-width="1.4" />
<line x1="623.5" y1="645.5" x2="623.5" y2="665.9" stroke-width="1.4" />
<line x1="635.2" y1="645.5" x2="635.2" y2="665.9" stroke-width="1.4" />
<line x1="647.0" y1="645.5" x2="647.0" y2="665.9" stroke-width="1.4" />
<line x1="658.7" y1="645.5" x2="658.7" y2="665.9" stroke-width="1.4" />
<line x1="670.4" y1="645.5" x2="670.4" y2="665.9" stroke-width="1.4" />
<line x1="500.0" y1="665.9" x2="500.0" y2="687.0" stroke-width="1.4" />
<line x1="511.8" y1="665.9" x2="511.8" y2="687.0" stroke-width="1.4" />
<line x1="523.5" y1="665.9" x2="523.5" y2="687.0" stroke-width="1.4" />
<line x1="535.3" y1="665.9" x2="535.3" y2="687.0" stroke-width="1.4" />
<line x1="547.1" y1="665.9" x2="547.1" y2="687.0" stroke-width="1.4" />
<line x1="558.9" y1="665.9" x2="558.9" y2="687.0" stroke-width="1.4" />
<line x1="570.6" y1="665.9" x2="570.6" y2="687.0" stroke-width="1.4" />
<line x1="582.4" y1="665.9" x2="582.4" y2="687.0" stroke-width="1.4" />
<line x1="594.2" y1="665.9" x2="594.2" y2="687.0" stroke-width="1.4" />
<line x1="605.9" y1="665.9" x2="605.9" y2="687.0" stroke-width="1.4" />
<line x1="617.7" y1="665.9" x2="617.7" y2="687.0" stroke-width="1.4" />
<line x1="629.5" y1="665.9" x2="629.5" y2="687.0" stroke-width="1.4" />
<line x1="641.2" y1="665.9" x2="641.2" y2="687.0" stroke-width="1.4" />
<line x1="653.0" y1="665.9" x2="653.0" y2="687.0" stroke-width="1.4" />
<line x1="664.8" y1="665.9" x2="664.8" y2="687.0" stroke-width="1.4" />
<line x1="494.6" y1="687.0" x2="494.6" y2="707.2" stroke-width="1.4" />
<line x1="506.3" y1="687.0" x2="506.3" y2="707.2" stroke-width="1.4" />
<line x1="518.0" y1="687.0" x2="518.0" y2="707.2" stroke-width="1.4" />
<line x1="529.8" y1="687.0" x2="529.8" y2="707.2" stroke-width="1.4" />
<line x1="541.5" y1="687.0" x2="541.5" y2="707.2" stroke-width="1.4" />
<line x1="553.2" y1="687.0" x2="553.2" y2="707.2" stroke-width="1.4" />
<line x1="564.9" y1="687.0" x2="564.9" y2="707.2" stroke-width="1.4" />
<line x1="576.6" y1="687.0" x2="576.6" y2="707.2" stroke-width="1.4" />
<line x1="588.4" y1="687.0" x2="588.4" y2="707.2" stroke-width="1.4" />
<line x1="600.1" y1="687.0" x2="600.1" y2="707.2" stroke-width="1.4" />
<line x1="611.8" y1="687.0" x2="611.8" y2="707.2" stroke-width="1.4" />
<line x1="623.5" y1="687.0" x2="623.5" y2="707.2" stroke-width="1.4" />
<line x1="635.2" y1="687.0" x2="635.2" y2="707.2" stroke-width="1.4" />
<line x1="647.0" y1="687.0" x2="647.0" y2="707.2" stroke-width="1.4" />
<line x1="658.7" y1="687.0" x2="658.7" y2="707.2" stroke-width="1.4" />
<line x1="670.4" y1="687.0" x2="670.4" y2="707.2" stroke-width="1.4" />
<path d="M599.3,503.2 C597,505 595.5,507 597.5,508.3 C600,509.5 599,511 597.4,511.8" stroke-width="1.3" />
<line x1="482.3" y1="735.3" x2="681.0" y2="735.3" stroke-width="1.3" />
<path d="M482,724.5 H495 M488,716 V733" stroke-width="2.2" />
<ellipse cx="488.5" cy="724.5" rx="5" ry="2.3" fill="#111" stroke="none"/>
<path d="M668.4,724.5 H681.4 M674.4,716 V733" stroke-width="2.2" />
<ellipse cx="674.9" cy="724.5" rx="5" ry="2.3" fill="#111" stroke="none"/>
<line x1="488.0" y1="185.7" x2="677.0" y2="185.7" stroke-width="1.4" />
<line x1="488.0" y1="192.7" x2="677.0" y2="192.7" stroke-width="1.4" />
<line x1="472.5" y1="189.3" x2="676.0" y2="189.3" stroke-width="0.8" />
<line x1="489.4" y1="179.8" x2="489.4" y2="198.0" stroke-width="3" />
<line x1="675.7" y1="179.8" x2="675.7" y2="198.0" stroke-width="3" />
<line x1="474.0" y1="205.5" x2="692.0" y2="205.5" stroke-width="2.6" />
<circle cx="482.5" cy="205.5" r="2.4" fill="#111" stroke="none"/>
<circle cx="682" cy="205.5" r="2.4" fill="#111" stroke="none"/>
<line x1="493.3" y1="196.0" x2="493.3" y2="203.5" stroke-width="1.6" />
<line x1="493.3" y1="207.8" x2="493.3" y2="215.2" stroke-width="1.6" />
<line x1="498.0" y1="196.0" x2="498.0" y2="203.5" stroke-width="1.6" />
<line x1="498.0" y1="207.8" x2="498.0" y2="215.2" stroke-width="1.6" />
<line x1="502.7" y1="196.0" x2="502.7" y2="203.5" stroke-width="1.6" />
<line x1="502.7" y1="207.8" x2="502.7" y2="215.2" stroke-width="1.6" />
<line x1="507.4" y1="196.0" x2="507.4" y2="203.5" stroke-width="1.6" />
<line x1="507.4" y1="207.8" x2="507.4" y2="215.2" stroke-width="1.6" />
<line x1="512.1" y1="196.0" x2="512.1" y2="203.5" stroke-width="1.6" />
<line x1="512.1" y1="207.8" x2="512.1" y2="215.2" stroke-width="1.6" />
<line x1="516.8" y1="196.0" x2="516.8" y2="203.5" stroke-width="1.6" />
<line x1="516.8" y1="207.8" x2="516.8" y2="215.2" stroke-width="1.6" />
<line x1="521.5" y1="196.0" x2="521.5" y2="203.5" stroke-width="1.6" />
<line x1="521.5" y1="207.8" x2="521.5" y2="215.2" stroke-width="1.6" />
<line x1="526.2" y1="196.0" x2="526.2" y2="203.5" stroke-width="1.6" />
<line x1="526.2" y1="207.8" x2="526.2" y2="215.2" stroke-width="1.6" />
<line x1="530.9" y1="196.0" x2="530.9" y2="203.5" stroke-width="1.6" />
<line x1="530.9" y1="207.8" x2="530.9" y2="215.2" stroke-width="1.6" />
<line x1="535.6" y1="196.0" x2="535.6" y2="203.5" stroke-width="1.6" />
<line x1="535.6" y1="207.8" x2="535.6" y2="215.2" stroke-width="1.6" />
<line x1="540.3" y1="196.0" x2="540.3" y2="203.5" stroke-width="1.6" />
<line x1="540.3" y1="207.8" x2="540.3" y2="215.2" stroke-width="1.6" />
<line x1="545.0" y1="196.0" x2="545.0" y2="203.5" stroke-width="1.6" />
<line x1="545.0" y1="207.8" x2="545.0" y2="215.2" stroke-width="1.6" />
<line x1="549.7" y1="196.0" x2="549.7" y2="203.5" stroke-width="1.6" />
<line x1="549.7" y1="207.8" x2="549.7" y2="215.2" stroke-width="1.6" />
<line x1="554.4" y1="196.0" x2="554.4" y2="203.5" stroke-width="1.6" />
<line x1="554.4" y1="207.8" x2="554.4" y2="215.2" stroke-width="1.6" />
<line x1="559.1" y1="196.0" x2="559.1" y2="203.5" stroke-width="1.6" />
<line x1="559.1" y1="207.8" x2="559.1" y2="215.2" stroke-width="1.6" />
<line x1="563.8" y1="196.0" x2="563.8" y2="203.5" stroke-width="1.6" />
<line x1="563.8" y1="207.8" x2="563.8" y2="215.2" stroke-width="1.6" />
<line x1="568.5" y1="196.0" x2="568.5" y2="203.5" stroke-width="1.6" />
<line x1="568.5" y1="207.8" x2="568.5" y2="215.2" stroke-width="1.6" />
<line x1="573.2" y1="196.0" x2="573.2" y2="203.5" stroke-width="1.6" />
<line x1="573.2" y1="207.8" x2="573.2" y2="215.2" stroke-width="1.6" />
<line x1="577.9" y1="196.0" x2="577.9" y2="203.5" stroke-width="1.6" />
<line x1="577.9" y1="207.8" x2="577.9" y2="215.2" stroke-width="1.6" />
<line x1="582.6" y1="196.0" x2="582.6" y2="203.5" stroke-width="1.6" />
<line x1="582.6" y1="207.8" x2="582.6" y2="215.2" stroke-width="1.6" />
<line x1="587.3" y1="196.0" x2="587.3" y2="203.5" stroke-width="1.6" />
<line x1="587.3" y1="207.8" x2="587.3" y2="215.2" stroke-width="1.6" />
<line x1="592.0" y1="196.0" x2="592.0" y2="203.5" stroke-width="1.6" />
<line x1="592.0" y1="207.8" x2="592.0" y2="215.2" stroke-width="1.6" />
<line x1="596.7" y1="196.0" x2="596.7" y2="203.5" stroke-width="1.6" />
<line x1="596.7" y1="207.8" x2="596.7" y2="215.2" stroke-width="1.6" />
<line x1="601.4" y1="196.0" x2="601.4" y2="203.5" stroke-width="1.6" />
<line x1="601.4" y1="207.8" x2="601.4" y2="215.2" stroke-width="1.6" />
<line x1="606.1" y1="196.0" x2="606.1" y2="203.5" stroke-width="1.6" />
<line x1="606.1" y1="207.8" x2="606.1" y2="215.2" stroke-width="1.6" />
<line x1="610.8" y1="196.0" x2="610.8" y2="203.5" stroke-width="1.6" />
<line x1="610.8" y1="207.8" x2="610.8" y2="215.2" stroke-width="1.6" />
<line x1="615.5" y1="196.0" x2="615.5" y2="203.5" stroke-width="1.6" />
<line x1="615.5" y1="207.8" x2="615.5" y2="215.2" stroke-width="1.6" />
<line x1="620.2" y1="196.0" x2="620.2" y2="203.5" stroke-width="1.6" />
<line x1="620.2" y1="207.8" x2="620.2" y2="215.2" stroke-width="1.6" />
<line x1="624.9" y1="196.0" x2="624.9" y2="203.5" stroke-width="1.6" />
<line x1="624.9" y1="207.8" x2="624.9" y2="215.2" stroke-width="1.6" />
<line x1="629.6" y1="196.0" x2="629.6" y2="203.5" stroke-width="1.6" />
<line x1="629.6" y1="207.8" x2="629.6" y2="215.2" stroke-width="1.6" />
<line x1="634.3" y1="196.0" x2="634.3" y2="203.5" stroke-width="1.6" />
<line x1="634.3" y1="207.8" x2="634.3" y2="215.2" stroke-width="1.6" />
<line x1="639.0" y1="196.0" x2="639.0" y2="203.5" stroke-width="1.6" />
<line x1="639.0" y1="207.8" x2="639.0" y2="215.2" stroke-width="1.6" />
<line x1="643.7" y1="196.0" x2="643.7" y2="203.5" stroke-width="1.6" />
<line x1="643.7" y1="207.8" x2="643.7" y2="215.2" stroke-width="1.6" />
<line x1="648.4" y1="196.0" x2="648.4" y2="203.5" stroke-width="1.6" />
<line x1="648.4" y1="207.8" x2="648.4" y2="215.2" stroke-width="1.6" />
<line x1="653.1" y1="196.0" x2="653.1" y2="203.5" stroke-width="1.6" />
<line x1="653.1" y1="207.8" x2="653.1" y2="215.2" stroke-width="1.6" />
<line x1="657.8" y1="196.0" x2="657.8" y2="203.5" stroke-width="1.6" />
<line x1="657.8" y1="207.8" x2="657.8" y2="215.2" stroke-width="1.6" />
<line x1="662.5" y1="196.0" x2="662.5" y2="203.5" stroke-width="1.6" />
<line x1="662.5" y1="207.8" x2="662.5" y2="215.2" stroke-width="1.6" />
<line x1="667.2" y1="196.0" x2="667.2" y2="203.5" stroke-width="1.6" />
<line x1="667.2" y1="207.8" x2="667.2" y2="215.2" stroke-width="1.6" />
<line x1="671.9" y1="196.0" x2="671.9" y2="203.5" stroke-width="1.6" />
<line x1="671.9" y1="207.8" x2="671.9" y2="215.2" stroke-width="1.6" />
<rect x="682.2" y="178.5" width="7" height="21.5" fill="#1a1a1a" stroke="none"/>
<rect x="683.6" y="181.5" width="1.6" height="1.8" fill="#fff" stroke="none"/>
<rect x="686.4" y="181.5" width="1.6" height="1.8" fill="#fff" stroke="none"/>
<rect x="683.6" y="185" width="1.6" height="1.8" fill="#fff" stroke="none"/>
<rect x="686.4" y="185" width="1.6" height="1.8" fill="#fff" stroke="none"/>
<rect x="683.6" y="188.5" width="1.6" height="1.8" fill="#fff" stroke="none"/>
<rect x="686.4" y="188.5" width="1.6" height="1.8" fill="#fff" stroke="none"/>
<rect x="683.6" y="192" width="1.6" height="1.8" fill="#fff" stroke="none"/>
<rect x="686.4" y="192" width="1.6" height="1.8" fill="#fff" stroke="none"/>
<rect x="683.6" y="195.5" width="1.6" height="1.8" fill="#fff" stroke="none"/>
<rect x="686.4" y="195.5" width="1.6" height="1.8" fill="#fff" stroke="none"/>
<path d="M677,184.3 H681.5 V193.5 H677" stroke-width="1.1" />
<rect x="689.2" y="183" width="3" height="14" fill="#333" stroke="none"/>
<line x1="692.6" y1="180.0" x2="692.6" y2="207.6" stroke-width="2.2" />
<line x1="676.0" y1="179.4" x2="676.0" y2="198.8" stroke-width="2.2" />
<path d="M694.5,174 L696.6,172.4 L698.7,174 L696.6,175.6Z" fill="#111" stroke="none"/>
<path d="M694.5,183 L696.6,181.4 L698.7,183 L696.6,184.6Z" fill="#111" stroke="none"/>
<path d="M694.5,188.8 L696.6,187.20000000000002 L698.7,188.8 L696.6,190.4Z" fill="#111" stroke="none"/>
<path d="M694.5,194.7 L696.6,193.1 L698.7,194.7 L696.6,196.29999999999998Z" fill="#111" stroke="none"/>
<rect x="617" y="132" width="35.5" height="23" rx="4.5" stroke-width="1.5" fill="#fff"/>
<line x1="624.5" y1="134.2" x2="649.0" y2="134.2" stroke-width="1.15" />
<line x1="624.5" y1="136.9" x2="649.0" y2="136.9" stroke-width="1.15" />
<line x1="624.5" y1="139.7" x2="649.0" y2="139.7" stroke-width="1.15" />
<line x1="624.5" y1="142.4" x2="649.0" y2="142.4" stroke-width="1.15" />
<line x1="624.5" y1="145.2" x2="649.0" y2="145.2" stroke-width="1.15" />
<line x1="624.5" y1="147.9" x2="649.0" y2="147.9" stroke-width="1.15" />
<line x1="624.5" y1="150.7" x2="649.0" y2="150.7" stroke-width="1.15" />
<line x1="624.5" y1="153.4" x2="649.0" y2="153.4" stroke-width="1.15" />
<line x1="624.5" y1="132.0" x2="624.5" y2="155.0" stroke-width="1.2" />
<line x1="649.0" y1="132.0" x2="649.0" y2="155.0" stroke-width="1.0" />
<rect x="653.3" y="131.3" width="3.2" height="24.2" fill="#111" stroke="none"/>
<path d="M656.5,133 H661.2 V153.5 H656.5" stroke-width="1.3" />
<path d="M661.2,144.4 V125.6 H671.2 L685.3,132.6 V155" stroke-width="1.4" />
<line x1="671.2" y1="126.2" x2="671.2" y2="144.4" stroke-width="1.2" />
<path d="M655.3,159.1 L667.6,144.4 H679.4 L684.1,159.1" stroke-width="1.4" />
<rect x="685.3" y="133.8" width="3" height="20.5" fill="#111" stroke="none"/>
<path d="M688.2,139.1 H697 M688.2,148 H697" stroke-width="1.3" />
<rect x="652.4" y="158.6" width="34.1" height="3.2" stroke-width="1.2" fill="#fff"/>
<path d="M686.5,162 H695.5 V165.2 H686.5" stroke-width="1.1" />
<line x1="697.0" y1="135.0" x2="697.0" y2="204.0" stroke-width="2.0" />
<ellipse cx="697.5" cy="143.5" rx="1.8" ry="5" fill="#111" stroke="none"/>
<path d="M691.8,129.4 H702.1 V213.2 H689.4" stroke-width="1.5" />
<line x1="612.0" y1="143.5" x2="700.0" y2="143.5" stroke-width="0.6" />
<path d="M667.6,137.9 L740.8,169.3 H758.8" stroke-width="1.1" />
<text x="746.5" y="164.2" font-size="12.5" text-anchor="middle" font-weight="bold" fill="#111" stroke="none" >1</text>
<path d="M696.4,199 L740.8,217 H757" stroke-width="1.1" />
<text x="746.5" y="212.8" font-size="12.5" text-anchor="middle" font-weight="bold" fill="#111" stroke="none" >2</text>
<path d="M654.8,209 L740.5,252.4 H758.6" stroke-width="1.1" />
<text x="746.5" y="248.7" font-size="12.5" text-anchor="middle" font-weight="bold" fill="#111" stroke="none" >3</text>
<path d="M677.9,247 L740.5,294.2 H758.6" stroke-width="1.1" />
<text x="746.5" y="289.9" font-size="12.5" text-anchor="middle" font-weight="bold" fill="#111" stroke="none" >4</text>
<path d="M643.3,280.7 L740.5,335.4 H758.6" stroke-width="1.1" />
<text x="746.5" y="331.1" font-size="12.5" text-anchor="middle" font-weight="bold" fill="#111" stroke="none" >5</text>
<path d="M687.8,318.6 L738.8,395.2 H757" stroke-width="1.1" />
<text x="746.5" y="391.2" font-size="12.5" text-anchor="middle" font-weight="bold" fill="#111" stroke="none" >6</text>
<line x1="475.3" y1="240.4" x2="475.3" y2="313.6" stroke-width="1.0" />
<line x1="690.7" y1="238.2" x2="690.7" y2="313.6" stroke-width="1.0" />
<line x1="475.3" y1="245.3" x2="690.7" y2="245.3" stroke-width="1.0" />
<path d="M475.5,245.3 L485.5,243.6 L485.5,247.0Z" fill="#111" stroke="none"/>
<path d="M690.5,245.3 L680.5,247.0 L680.5,243.6Z" fill="#111" stroke="none"/>
<text x="589.6" y="240.5" font-size="12.5" text-anchor="middle" font-weight="bold" fill="#111" stroke="none" >B+190</text>
<line x1="477.6" y1="752.0" x2="477.6" y2="853.0" stroke-width="1.0" />
<line x1="685.2" y1="752.0" x2="685.2" y2="853.0" stroke-width="1.0" />
<line x1="482.0" y1="810.2" x2="680.5" y2="810.2" stroke-width="1.0" />
<path d="M482.0,810.2 L500.0,808.0 L500.0,812.4Z" fill="#111" stroke="none"/>
<path d="M680.8,810.2 L662.8,812.4 L662.8,808.0Z" fill="#111" stroke="none"/>
<line x1="477.7" y1="844.3" x2="684.8" y2="844.3" stroke-width="1.0" />
<path d="M477.8,844.3 L495.8,842.1 L495.8,846.5Z" fill="#111" stroke="none"/>
<path d="M684.9,844.3 L666.9,846.5 L666.9,842.1Z" fill="#111" stroke="none"/>
<text x="578.5" y="806.3" font-size="12.5" text-anchor="middle" font-weight="bold" fill="#111" stroke="none" >设备宽B1</text>
<text x="580.0" y="839.0" font-size="12.5" text-anchor="middle" font-weight="bold" fill="#111" stroke="none" >井宽B</text>
</g></svg>
<div class="t" id="cap">1、驱动机构 2、主传动机构 3、清污机构 4、机架 5、清污耙 6、安装支架</div>
<div class="t" id="ord">订货说明</div>
<div class="t ln" style="top:993px"><i>1</i>、注明渠宽<i>B1</i>渠深<i>H</i>及齿隙<i>b</i>，排渣口高度未注按<i>800mm</i>；</div>
<div class="t ln" style="top:1029px"><i>2</i>、安装角度<i class="dg">60°</i><i class="dg">~80°</i>，订货时请注明，未注明按<i class="dg">75°</i>；</div>
<div class="t ln" style="top:1063px"><i>3</i>、存放、输送或压榨垃圾的配套设备可另订；</div>
<div class="t ln" style="top:1097px"><i>4</i>、介质温度≦<i class="dg">60°</i>，特殊水质应注明；</div>
<div class="t ln" style="top:1131px"><i>5</i>、当<i>B&gt;1500mm</i>时，应考虑并联格栅结构<b style="font-weight:normal;margin-left:4px">（</b>两组链条由一个传动装置拖动<b style="font-weight:normal;margin-right:5px">）</b>；</div>
<div class="t ln" style="top:1164px"><i>6</i>、样本中未列规格可设计制作。</div>
</body></html>
